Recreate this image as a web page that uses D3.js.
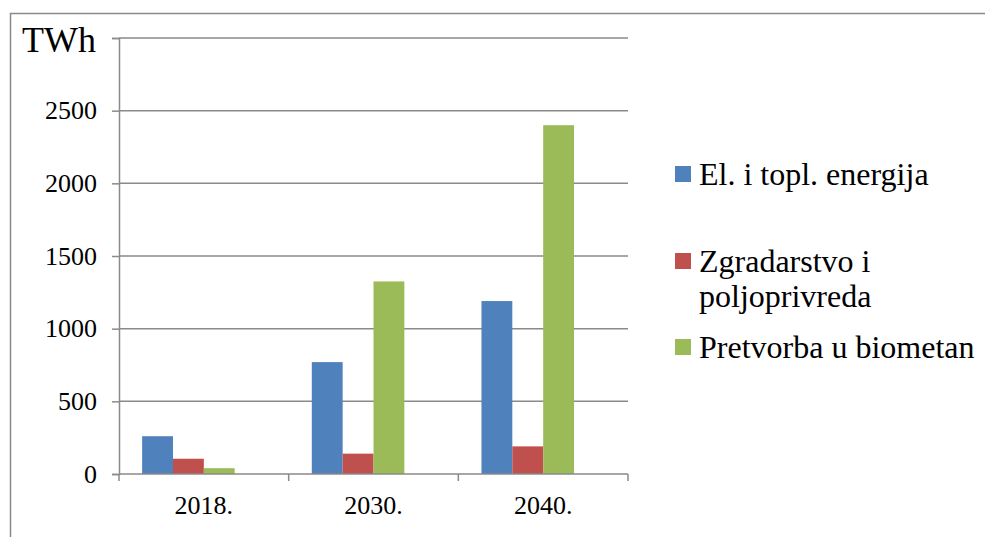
<!DOCTYPE html>
<html>
<head>
<meta charset="utf-8">
<script src="https://cdn.jsdelivr.net/npm/d3@7"></script>
<style>
  body { margin: 0; background: #fff; }
</style>
</head>
<body>
<svg id="chart" width="985" height="537"></svg>
<script>
// data (TWh)
const years = ["2018.", "2030.", "2040."];
const seriesNames = ["El. i topl. energija", "Zgradarstvo i\npoljoprivreda", "Pretvorba u biometan"];
const elTopl = [260, 770, 1190];
const zgradarstvo = [105, 140, 190];
const biometan = [40, 1325, 2400];
const yTicks = [0, 500, 1000, 1500, 2000, 2500, 3000];
const colors = ["#4F81BD", "#C0504D", "#9BBB59"];

const seriesValues = [elTopl, zgradarstvo, biometan];

const width = 985;
const height = 537;
const margin = { top: 38, right: 357, bottom: 63, left: 119 };
const gridColor = "#8a8a8a";
const serif = "'Liberation Serif', 'Times New Roman', serif";

const svg = d3.select("#chart");

// outer frame (runs off the right and bottom of the picture)
svg.append("rect")
  .attr("x", 10.5)
  .attr("y", 13.5)
  .attr("width", width)
  .attr("height", height)
  .attr("fill", "none")
  .attr("stroke", gridColor)
  .attr("stroke-width", 1.5);

const xScale = d3.scaleBand()
  .domain(years)
  .range([margin.left, width - margin.right])
  .paddingInner(1.5 / 5.5)
  .paddingOuter(0.75 / 5.5);

// four slots per group: the original chart keeps an empty fourth series
const xInner = d3.scaleBand()
  .domain(d3.range(4))
  .range([0, xScale.bandwidth()]);

const yScale = d3.scaleLinear()
  .domain([0, 3000])
  .range([height - margin.bottom, margin.top]);

// gridlines
svg.append("g")
  .selectAll("line")
  .data(yTicks.filter(d => d > 0))
  .join("line")
  .attr("x1", margin.left)
  .attr("x2", width - margin.right)
  .attr("y1", d => yScale(d))
  .attr("y2", d => yScale(d))
  .attr("stroke", gridColor)
  .attr("stroke-width", 1.5);

// bars
const groups = svg.append("g")
  .selectAll("g")
  .data(years)
  .join("g")
  .attr("transform", d => `translate(${xScale(d)},0)`);

groups.selectAll("rect")
  .data((year, i) => seriesValues.map((vals, s) => ({ s, v: vals[i] })))
  .join("rect")
  .attr("x", d => xInner(d.s))
  .attr("width", xInner.bandwidth())
  .attr("y", d => yScale(d.v))
  .attr("height", d => yScale(0) - yScale(d.v))
  .attr("fill", d => colors[d.s]);

// y axis
const yAxis = d3.axisLeft(yScale)
  .tickValues(yTicks)
  .tickSize(7)
  .tickPadding(15)
  .tickFormat(d => d === 3000 ? "" : d);
const yG = svg.append("g")
  .attr("transform", `translate(${margin.left},0)`)
  .call(yAxis);

// x axis
const xAxis = d3.axisBottom(xScale).tickSize(0).tickPadding(22);
const xG = svg.append("g")
  .attr("transform", `translate(0,${yScale(0)})`)
  .call(xAxis);

svg.selectAll(".tick text")
  .style("font-family", serif)
  .style("font-size", "26px")
  .attr("fill", "#000");

// x tick marks between categories
const xEdges = years.map(d => xScale(d) - xScale.step() * xScale.paddingInner() / 2)
  .concat([width - margin.right]);
xG.selectAll(".edge")
  .data(xEdges)
  .join("line")
  .attr("class", "edge")
  .attr("x1", d => d)
  .attr("x2", d => d)
  .attr("y1", 0)
  .attr("y2", 7)
  .attr("stroke", gridColor)
  .attr("stroke-width", 1.5);

svg.selectAll(".domain, .tick line")
  .attr("stroke", gridColor)
  .attr("stroke-width", 1.5);
xG.select(".domain").attr("d", `M${margin.left},0H${width - margin.right}`);

// unit label
svg.append("text")
  .attr("x", 22)
  .attr("y", 52)
  .style("font-family", serif)
  .style("font-size", "36px")
  .text("TWh");

// legend
const legendY = [182, 269, 355];
const legend = svg.append("g")
  .selectAll("g")
  .data(seriesNames)
  .join("g")
  .attr("transform", (d, i) => `translate(675,${legendY[i]})`);

legend.append("rect")
  .attr("x", 0)
  .attr("y", -16)
  .attr("width", 16)
  .attr("height", 16)
  .attr("fill", (d, i) => colors[i]);

legend.append("text")
  .attr("x", 24)
  .attr("y", 3)
  .style("font-family", serif)
  .style("font-size", "32px")
  .selectAll("tspan")
  .data(d => d.split("\n"))
  .join("tspan")
  .attr("x", 24)
  .attr("dy", (d, i) => i === 0 ? 0 : 35)
  .text(d => d);
</script>
</body>
</html>
